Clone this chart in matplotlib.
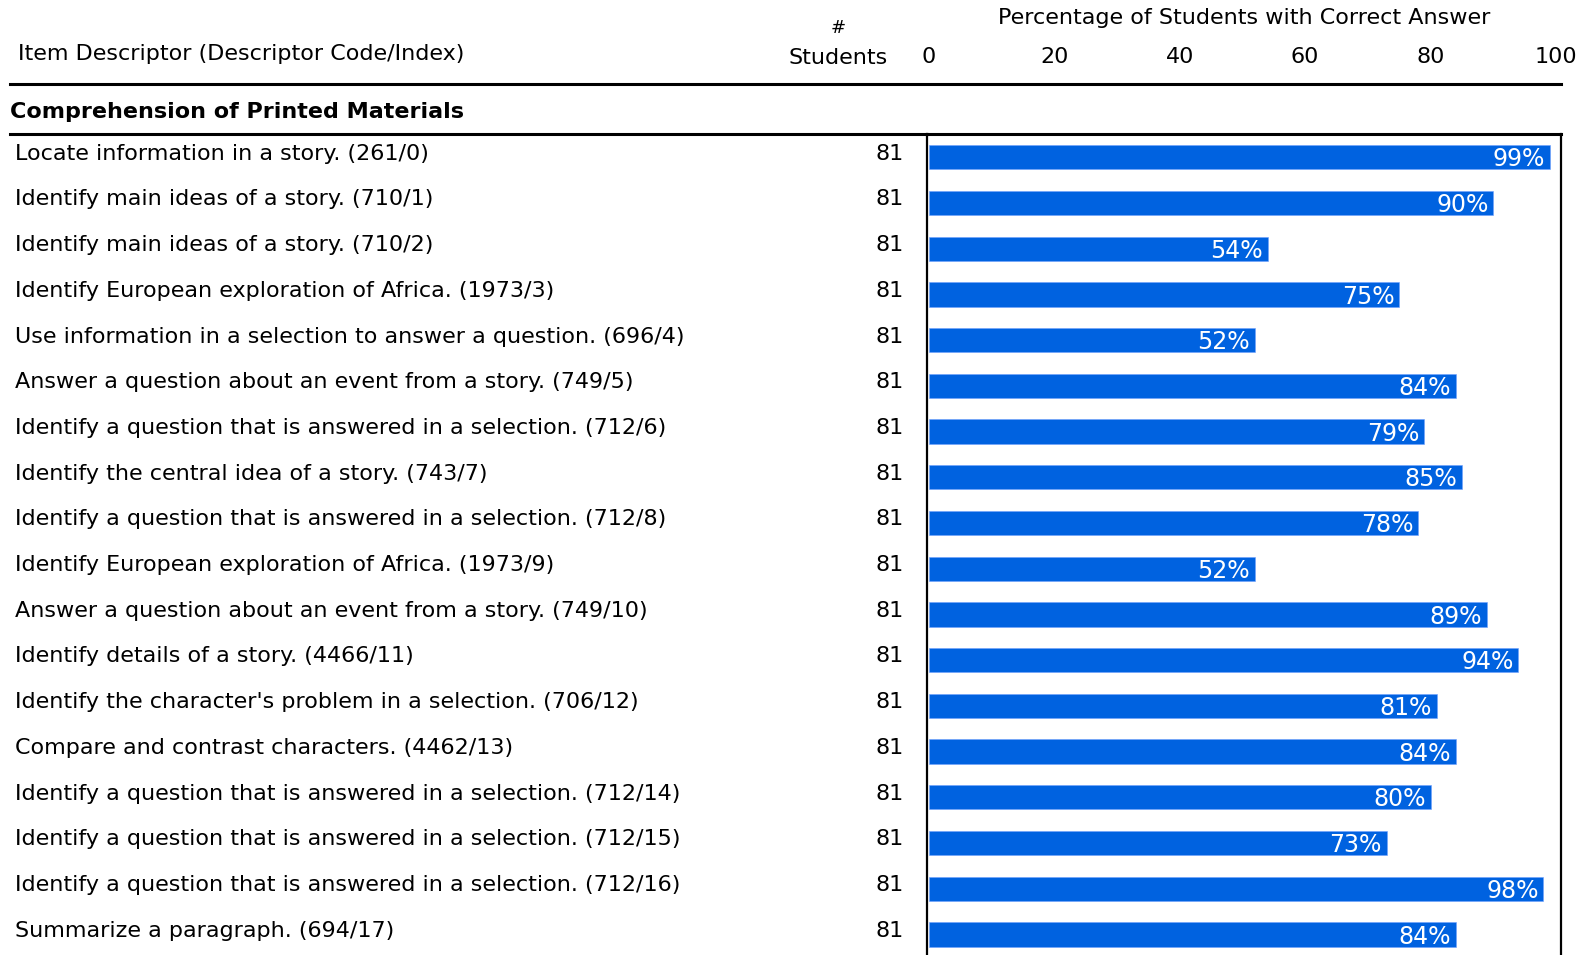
import numpy as np
import matplotlib
matplotlib.use("Agg")
import matplotlib.pyplot as plt
from matplotlib.lines import Line2D
from matplotlib.transforms import blended_transform_factory

# Item descriptors, student counts and percent correct
descriptors = [
    "Locate information in a story. (261/0)",
    "Identify main ideas of a story. (710/1)",
    "Identify main ideas of a story. (710/2)",
    "Identify European exploration of Africa. (1973/3)",
    "Use information in a selection to answer a question. (696/4)",
    "Answer a question about an event from a story. (749/5)",
    "Identify a question that is answered in a selection. (712/6)",
    "Identify the central idea of a story. (743/7)",
    "Identify a question that is answered in a selection. (712/8)",
    "Identify European exploration of Africa. (1973/9)",
    "Answer a question about an event from a story. (749/10)",
    "Identify details of a story. (4466/11)",
    "Identify the character's problem in a selection. (706/12)",
    "Compare and contrast characters. (4462/13)",
    "Identify a question that is answered in a selection. (712/14)",
    "Identify a question that is answered in a selection. (712/15)",
    "Identify a question that is answered in a selection. (712/16)",
    "Summarize a paragraph. (694/17)",
]
n_students = [81] * 18
pct_correct = [99, 90, 54, 75, 52, 84, 79, 85, 78, 52, 89, 94, 81, 84, 80, 73, 98, 84]
x_ticks = [0, 20, 40, 60, 80, 100]

section_title = "Comprehension of Printed Materials"
bar_color = "#0062E0"
fs = 16

plt.rcParams["font.family"] = ["DejaVu Sans"]

W, H = 1591, 955
fig = plt.figure(figsize=(W / 100, H / 100), dpi=100)

# axes box: top at 134px, runs past the bottom edge of the picture
ax_left, ax_right, ax_top = 927 / W, 1561 / W, 1 - 134 / H
ax = fig.add_axes([ax_left, 0, ax_right - ax_left, ax_top])

rows = np.arange(len(pct_correct))
ax.barh(rows, pct_correct, height=0.53, color=bar_color, edgecolor="#6fa0ff", linewidth=0.4)
ax.set_xlim(-0.3, 100.8)
ax.set_ylim(17.45, -0.51)

for i, v in enumerate(pct_correct):
    ax.annotate(f"{v}%", (v, i), xytext=(-3.5, -1.5), textcoords="offset points",
                ha="right", va="center", color="white", fontsize=fs + 1)

ax.set_yticks([])
ax.set_xticks(x_ticks)
ax.tick_params(axis="x", top=True, labeltop=True, bottom=False, labelbottom=False,
               length=0, pad=48, labelsize=fs)
ax.spines["bottom"].set_visible(False)
ax.spines["top"].set_linewidth(2.2)
ax.spines["left"].set_linewidth(1.6)
ax.spines["right"].set_linewidth(1.6)

# row labels and counts
tr = blended_transform_factory(fig.transFigure, ax.transData)
for i, (d, n) in enumerate(zip(descriptors, n_students)):
    ax.text(15 / W, i - 0.08, d, transform=tr, ha="left", va="center", fontsize=fs)
    ax.text(904 / W, i - 0.08, str(n), transform=tr, ha="right", va="center", fontsize=fs)

# header
fig.text(18 / W, 1 - 54 / H, "Item Descriptor (Descriptor Code/Index)", ha="left", va="center", fontsize=fs)
fig.text(838 / W, 1 - 28 / H, "#", ha="center", va="center", fontsize=fs - 3)
fig.text(838 / W, 1 - 58 / H, "Students", ha="center", va="center", fontsize=fs)
fig.text(1244 / W, 1 - 18 / H, "Percentage of Students with Correct Answer", ha="center", va="center", fontsize=fs)
fig.add_artist(Line2D([10 / W, 1561 / W], [1 - 84 / H] * 2, color="black", lw=2.2, transform=fig.transFigure))

fig.text(10 / W, 1 - 112 / H, section_title, ha="left", va="center", fontsize=fs, fontweight="bold")
fig.add_artist(Line2D([10 / W, ax_left], [ax_top] * 2, color="black", lw=2.2, transform=fig.transFigure))

fig.savefig("out.png", dpi=100, facecolor="white")
